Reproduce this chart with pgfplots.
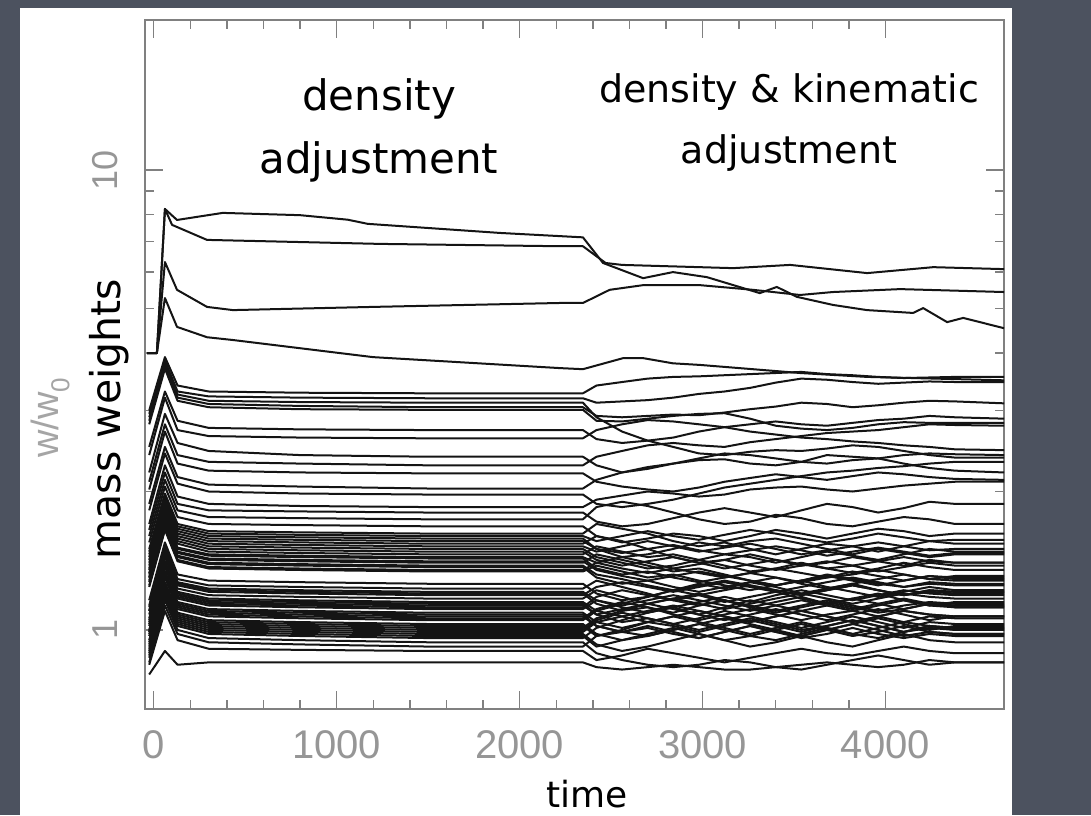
\documentclass[border=0pt]{standalone}
\usepackage{fontspec}
\setmainfont{DejaVu Sans}
\newfontfamily\lib{Liberation Sans}
\usepackage{pgfplots}
\usepackage{pgfplotstable}
\pgfplotsset{compat=1.18}
\definecolor{slide}{RGB}{76,82,95}
\definecolor{axgray}{RGB}{128,128,128}
\definecolor{tkgray}{RGB}{150,150,150}
\definecolor{lbgray}{RGB}{165,165,165}
\tikzset{wl/.style={black!92, line width=1.0pt, line join=round}}

\pgfplotstableread{
name c1 c2 c3 c4 c5 c6 c7 c8 c9 c10 c11 c12 c13 c14 c15 c16 c17 c18 c19 c20 c21 c22 c23
t -25 61 130 300 800 1500 2346 2420 2560 2700 2840 2980 3120 3260 3400 3540 3680 3820 3960 4100 4240 4380 4648
L5 3.00 3.92 3.40 3.30 3.28 3.27 3.27 3.40 3.46 3.52 3.55 3.56 3.58 3.60 3.62 3.64 3.60 3.58 3.55 3.53 3.54 3.55 3.55
L6 2.95 3.85 3.30 3.22 3.20 3.19 3.19 3.12 3.14 3.16 3.20 3.26 3.30 3.36 3.45 3.52 3.50 3.46 3.43 3.45 3.47 3.46 3.46
L7 2.85 3.75 3.20 3.10 3.07 3.05 3.05 2.92 2.90 2.92 2.94 2.93 2.97 3.02 3.06 3.12 3.10 3.05 3.08 3.12 3.15 3.14 3.11
L8 2.80 3.70 3.15 3.05 3.02 3.01 3.01 2.85 2.84 2.88 2.92 2.95 2.96 2.88 2.78 2.74 2.72 2.75 2.80 2.83 2.82 2.82 2.82
L9 2.90 3.80 3.25 3.15 3.13 3.12 3.12 2.90 2.70 2.58 2.50 2.42 2.40 2.44 2.46 2.45 2.48 2.52 2.50 2.45 2.40 2.37 2.37
L10 2.50 3.30 2.85 2.75 2.73 2.72 2.72 2.60 2.55 2.58 2.62 2.70 2.76 2.80 2.84 2.80 2.78 2.82 2.86 2.88 2.92 2.90 2.88
L11 2.40 3.20 2.72 2.64 2.62 2.61 2.61 2.72 2.80 2.86 2.84 2.80 2.76 2.70 2.66 2.62 2.60 2.57 2.55 2.52 2.50 2.47 2.46
L12 2.20 2.95 2.55 2.45 2.40 2.38 2.38 2.28 2.20 2.24 2.30 2.36 2.42 2.40 2.36 2.32 2.30 2.34 2.36 2.30 2.25 2.22 2.20
L13 2.10 2.80 2.40 2.32 2.30 2.28 2.28 2.38 2.45 2.52 2.55 2.52 2.50 2.56 2.60 2.64 2.68 2.70 2.72 2.76 2.80 2.79 2.78
L14 2.02 2.70 2.30 2.22 2.20 2.19 2.19 2.10 2.05 2.02 2.00 2.04 2.10 2.14 2.18 2.15 2.12 2.16 2.20 2.18 2.15 2.13 2.12
L15 1.88 2.50 2.15 2.07 2.05 2.03 2.03 2.12 2.20 2.26 2.30 2.34 2.35 2.30 2.28 2.32 2.40 2.38 2.36 2.40 2.42 2.41 2.40
L16 1.82 2.42 2.08 2.00 1.98 1.97 1.97 1.88 1.85 1.88 1.92 1.98 2.04 2.08 2.12 2.16 2.20 2.22 2.25 2.27 2.30 2.32 2.32
L17 1.70 2.28 1.95 1.88 1.86 1.85 1.85 1.92 1.96 2.00 1.98 1.95 1.97 2.02 2.04 2.05 2.02 2.00 2.03 2.06 2.08 2.10 2.10
D1 1.65 2.20 1.88 1.82 1.81 1.80 1.80 1.72 1.68 1.70 1.75 1.80 1.84 1.80 1.76 1.82 1.88 1.85 1.80 1.84 1.90 1.88 1.88
D2 1.60 2.12 1.82 1.76 1.75 1.74 1.74 1.85 1.90 1.86 1.80 1.74 1.70 1.72 1.78 1.75 1.70 1.68 1.72 1.76 1.74 1.70 1.70
D3 1.55 2.05 1.76 1.70 1.69 1.68 1.68 1.60 1.55 1.58 1.62 1.60 1.56 1.60 1.65 1.62 1.58 1.62 1.66 1.64 1.60 1.62 1.62
D4 1.50 1.98 1.70 1.64 1.63 1.62 1.62 1.70 1.66 1.62 1.56 1.52 1.55 1.50 1.46 1.50 1.54 1.52 1.48 1.52 1.56 1.54 1.54
D5 1.46 1.92 1.66 1.60 1.59 1.58 1.58 1.50 1.44 1.46 1.50 1.55 1.52 1.56 1.58 1.54 1.50 1.46 1.50 1.47 1.44 1.46 1.46
D6 1.42 1.88 1.62 1.56 1.55 1.54 1.54 1.60 1.56 1.50 1.44 1.40 1.42 1.46 1.42 1.38 1.40 1.44 1.41 1.38 1.42 1.40 1.40
D7 1.38 1.84 1.58 1.52 1.51 1.50 1.50 1.44 1.40 1.36 1.38 1.42 1.46 1.44 1.40 1.44 1.48 1.45 1.42 1.46 1.50 1.48 1.48
D8 1.35 1.78 1.54 1.48 1.47 1.46 1.46 1.52 1.48 1.44 1.46 1.42 1.38 1.34 1.36 1.40 1.36 1.33 1.36 1.40 1.37 1.35 1.35
D9 1.32 1.75 1.50 1.45 1.44 1.43 1.43 1.36 1.32 1.34 1.30 1.27 1.30 1.33 1.30 1.27 1.30 1.34 1.31 1.28 1.31 1.30 1.30
D10 1.30 1.72 1.47 1.42 1.41 1.40 1.40 1.46 1.42 1.38 1.34 1.36 1.32 1.28 1.25 1.28 1.32 1.29 1.26 1.24 1.27 1.26 1.26
D11 1.27 1.68 1.44 1.39 1.38 1.37 1.37 1.30 1.26 1.28 1.24 1.21 1.24 1.27 1.24 1.20 1.23 1.26 1.22 1.19 1.22 1.21 1.21
D12 1.24 1.65 1.41 1.36 1.35 1.34 1.34 1.38 1.34 1.30 1.32 1.28 1.25 1.22 1.25 1.28 1.24 1.21 1.18 1.21 1.24 1.22 1.22
D13 1.16 1.55 1.32 1.28 1.27 1.26 1.26 1.20 1.16 1.18 1.22 1.19 1.15 1.18 1.21 1.17 1.14 1.17 1.20 1.16 1.13 1.15 1.15
D14 1.13 1.52 1.29 1.25 1.24 1.23 1.23 1.28 1.24 1.20 1.16 1.13 1.16 1.12 1.09 1.12 1.15 1.12 1.09 1.11 1.14 1.12 1.12
D15 1.10 1.48 1.26 1.22 1.21 1.20 1.20 1.14 1.10 1.12 1.08 1.05 1.08 1.11 1.08 1.05 1.08 1.10 1.07 1.04 1.07 1.06 1.06
D16 1.08 1.44 1.23 1.19 1.18 1.17 1.17 1.22 1.18 1.14 1.17 1.20 1.16 1.12 1.15 1.18 1.14 1.11 1.14 1.17 1.14 1.13 1.13
D17 1.05 1.40 1.20 1.16 1.15 1.14 1.14 1.08 1.04 1.06 1.03 1.00 1.03 1.06 1.03 1.00 1.02 1.05 1.02 0.99 1.02 1.01 1.01
D18 1.02 1.37 1.17 1.13 1.12 1.11 1.11 1.16 1.12 1.09 1.12 1.08 1.05 1.08 1.11 1.08 1.05 1.08 1.11 1.08 1.05 1.07 1.07
D19 0.99 1.33 1.14 1.10 1.09 1.08 1.08 1.02 0.99 1.01 0.98 0.96 0.99 1.02 0.99 0.97 1.00 1.03 1.00 0.97 0.99 0.98 0.98
D20 0.97 1.30 1.11 1.07 1.06 1.05 1.05 1.10 1.14 1.18 1.22 1.26 1.23 1.27 1.30 1.26 1.23 1.26 1.29 1.32 1.29 1.28 1.28
D21 0.95 1.27 1.09 1.05 1.04 1.03 1.03 0.98 0.95 0.97 1.00 1.03 1.00 0.97 0.95 0.98 1.01 0.98 0.96 0.99 1.02 1.00 1.00
D22 0.92 1.24 1.06 1.02 1.01 1.00 1.00 1.05 1.09 1.06 1.03 1.06 1.10 1.07 1.04 1.01 1.04 1.07 1.04 1.01 1.04 1.03 1.03
D23 0.90 1.21 1.04 1.00 0.99 0.98 0.98 0.93 0.90 0.92 0.95 0.98 0.95 0.92 0.94 0.97 0.94 0.92 0.95 0.98 0.95 0.94 0.94
D24 0.88 1.18 1.02 0.98 0.97 0.96 0.96 1.01 1.05 1.09 1.12 1.15 1.18 1.15 1.19 1.22 1.19 1.16 1.19 1.22 1.20 1.19 1.19
D25 0.87 1.16 1.00 0.96 0.95 0.94 0.94 0.89 0.86 0.84 0.83 0.84 0.86 0.85 0.83 0.82 0.84 0.86 0.88 0.86 0.84 0.85 0.85
D26 0.85 1.13 0.98 0.94 0.93 0.92 0.92 0.97 1.00 1.04 1.02 0.99 1.02 1.05 1.02 0.99 1.02 1.05 1.02 0.99 1.01 1.00 1.00
D27 0.84 1.10 0.95 0.91 0.905 0.90 0.90 0.86 0.88 0.91 0.89 0.87 0.85 0.87 0.89 0.91 0.89 0.88 0.90 0.92 0.90 0.89 0.89
D28 0.80 0.90 0.84 0.85 0.85 0.85 0.85 0.83 0.82 0.83 0.84 0.83 0.82 0.82 0.83 0.84 0.85 0.84 0.83 0.84 0.86 0.85 0.85
E1 1.40 1.86 1.60 1.54 1.53 1.52 1.52 1.48 1.52 1.56 1.52 1.48 1.51 1.54 1.50 1.46 1.49 1.52 1.55 1.52 1.49 1.50 1.50
E2 1.36 1.81 1.56 1.50 1.49 1.48 1.48 1.42 1.38 1.41 1.44 1.40 1.36 1.39 1.42 1.39 1.36 1.38 1.41 1.44 1.41 1.40 1.40
E3 1.33 1.76 1.51 1.46 1.45 1.44 1.44 1.40 1.36 1.33 1.36 1.33 1.30 1.33 1.36 1.33 1.30 1.32 1.35 1.32 1.29 1.31 1.31
E4 1.30 1.73 1.48 1.43 1.42 1.41 1.41 1.35 1.31 1.28 1.31 1.34 1.31 1.28 1.25 1.28 1.31 1.28 1.25 1.28 1.31 1.29 1.29
E5 1.28 1.69 1.45 1.40 1.39 1.38 1.38 1.32 1.29 1.25 1.22 1.25 1.28 1.25 1.22 1.19 1.22 1.25 1.22 1.19 1.22 1.21 1.21
E6 1.12 1.49 1.27 1.23 1.22 1.21 1.21 1.16 1.13 1.16 1.19 1.16 1.13 1.10 1.13 1.16 1.13 1.10 1.13 1.16 1.13 1.12 1.12
E7 1.06 1.41 1.21 1.17 1.16 1.15 1.15 1.10 1.07 1.10 1.13 1.10 1.07 1.04 1.07 1.10 1.07 1.04 1.07 1.10 1.08 1.07 1.07
E8 1.03 1.38 1.18 1.14 1.13 1.12 1.12 1.18 1.22 1.19 1.16 1.19 1.22 1.25 1.22 1.19 1.22 1.25 1.22 1.19 1.21 1.20 1.20
E9 1.00 1.34 1.15 1.11 1.10 1.09 1.09 1.04 1.01 1.04 1.07 1.04 1.01 0.98 1.01 1.04 1.01 0.98 1.01 1.04 1.02 1.01 1.01
E10 0.98 1.31 1.12 1.08 1.07 1.06 1.06 1.11 1.15 1.12 1.09 1.13 1.16 1.13 1.10 1.13 1.16 1.13 1.10 1.13 1.15 1.14 1.14
E11 0.94 1.26 1.08 1.04 1.03 1.02 1.02 0.97 0.99 1.02 0.99 0.96 0.99 1.02 0.99 0.96 0.98 1.01 0.98 0.96 0.98 0.97 0.97
E12 0.91 1.22 1.05 1.01 1.00 0.99 0.99 1.04 1.07 1.04 1.07 1.10 1.07 1.04 1.07 1.10 1.07 1.04 1.07 1.10 1.08 1.07 1.07
F1 1.48 1.95 1.68 1.62 1.61 1.60 1.60 1.56 1.60 1.64 1.60 1.57 1.61 1.65 1.62 1.58 1.55 1.58 1.62 1.59 1.56 1.57 1.57
F2 1.44 1.90 1.64 1.58 1.57 1.56 1.56 1.50 1.47 1.50 1.53 1.49 1.46 1.49 1.52 1.49 1.45 1.48 1.51 1.48 1.45 1.47 1.47
F3 1.25 1.66 1.42 1.37 1.36 1.35 1.35 1.40 1.44 1.40 1.36 1.39 1.42 1.38 1.35 1.38 1.41 1.38 1.34 1.37 1.40 1.38 1.38
F4 1.10 1.46 1.25 1.21 1.20 1.19 1.19 1.24 1.27 1.24 1.21 1.24 1.27 1.24 1.21 1.24 1.27 1.30 1.27 1.24 1.26 1.25 1.25
F5 1.04 1.39 1.19 1.15 1.14 1.13 1.13 1.08 1.11 1.14 1.17 1.14 1.11 1.14 1.17 1.20 1.17 1.14 1.17 1.20 1.18 1.17 1.17
F6 0.99 1.32 1.13 1.09 1.08 1.07 1.07 1.02 0.99 0.97 1.00 1.03 1.06 1.03 1.00 0.97 1.00 1.03 1.06 1.03 1.00 1.02 1.02
F7 0.93 1.25 1.07 1.03 1.02 1.01 1.01 1.06 1.10 1.14 1.11 1.08 1.12 1.16 1.13 1.10 1.13 1.17 1.14 1.11 1.14 1.13 1.13
F8 0.89 1.20 1.03 0.99 0.98 0.97 0.97 0.92 0.95 0.98 1.01 0.98 0.95 0.97 1.00 1.03 1.00 0.97 0.99 1.02 0.99 0.98 0.98
}\rawbundle
\pgfplotstabletranspose[colnames from=name]\bundle{\rawbundle}

\begin{document}
\begin{tikzpicture}
\useasboundingbox (0,0) rectangle (545.5pt,-407.5pt);
\fill[slide] (0,0) rectangle (545.5pt,-407.5pt);
\fill[white] (10pt,-4pt) rectangle (506pt,-407.5pt);
\begin{axis}[
  at={(72.5pt,-354.5pt)}, anchor=south west,
  scale only axis, width=429.5pt, height=344.5pt,
  ymode=log, ymin=0.673, ymax=21.2,
  xmin=-48, xmax=4648,
  xtick={0,1000,2000,3000,4000}, xticklabels={0,1000,2000,3000,4000},
  minor x tick num=4,
  ytick={1,10}, yticklabels={1,10},
  major tick length=9pt, minor tick length=4.5pt,
  tick style={draw=axgray, line width=0.7pt},
  axis line style={draw=axgray, line width=0.8pt},
  xticklabel style={font=\lib\fontsize{20}{24}\selectfont, text=tkgray, anchor=center, yshift=-18pt},
  yticklabel style={font=\lib\fontsize{18}{22}\selectfont, text=tkgray, rotate=90, anchor=center, yshift=20pt},
]
\pgfplotsinvokeforeach{L5,L6,L7,L8,L9,L10,L11,L12,L13,L14,L15,L16,L17,D1,D2,D3,D4,D5,D6,D7,D8,D9,D10,D11,D12,D13,D14,D15,D16,D17,D18,D19,D20,D21,D22,D23,D24,D25,D26,D27,D28,E1,E2,E3,E4,E5,E6,E7,E8,E9,E10,E11,E12,F1,F2,F3,F4,F5,F6,F7,F8}{
  \addplot[wl] table[x=t, y=#1] {\bundle};
}
% top lines
\addplot[wl] coordinates {(-37,4.0)(17,4.0)(61,8.23)(127,7.79)(377,8.07)(800,7.98)(1060,7.80)(1170,7.64)(1893,7.30)(2346,7.14)(2456,6.28)(2675,5.82)(2838,6.0)(3024,5.85)(3313,5.40)(3406,5.57)(3516,5.30)(3713,5.09)(3899,4.96)(4151,4.89)(4206,5.01)(4337,4.67)(4425,4.77)(4648,4.53)};
\addplot[wl] coordinates {(-37,4.0)(17,4.0)(61,8.23)(100,7.6)(291,7.05)(1236,6.91)(2221,6.83)(2346,6.83)(2470,6.28)(2560,6.22)(3167,6.12)(3479,6.22)(3900,5.97)(4261,6.15)(4648,6.09)};
\addplot[wl] coordinates {(-37,4.0)(17,4.0)(61,6.31)(127,5.49)(291,5.04)(433,4.96)(1198,5.04)(2221,5.14)(2346,5.14)(2492,5.49)(2675,5.62)(2986,5.62)(3276,5.49)(3533,5.35)(3713,5.43)(4080,5.51)(4648,5.43)};
\addplot[wl] coordinates {(-37,4.0)(17,4.0)(61,5.27)(127,4.56)(291,4.33)(433,4.27)(1198,3.92)(2221,3.71)(2346,3.69)(2566,3.90)(2675,3.90)(2838,3.80)(2986,3.77)(3533,3.62)(3900,3.55)(4648,3.49)};
\end{axis}
\node[font=\fontsize{21}{25}\selectfont, anchor=base] at (189.5pt,-55pt) {density};
\node[font=\fontsize{21}{25}\selectfont, anchor=base] at (189.5pt,-86.5pt) {adjustment};
\node[font=\fontsize{19}{23}\selectfont, anchor=base] at (394.5pt,-51pt) {density \& kinematic};
\node[font=\fontsize{19}{23}\selectfont, anchor=base] at (394.5pt,-81.5pt) {adjustment};
\node[font=\fontsize{18}{22}\selectfont, anchor=base] at (293.5pt,-403.5pt) {time};
\node[font=\fontsize{20.5}{24}\selectfont, rotate=90, anchor=base] at (60pt,-209.5pt) {mass weights};
\node[font=\lib\fontsize{19}{22}\selectfont, text=lbgray, rotate=90, anchor=base] at (29pt,-209pt) {w/w\raisebox{-0.3em}{\fontsize{13}{13}\selectfont 0}};
\end{tikzpicture}
\end{document}
